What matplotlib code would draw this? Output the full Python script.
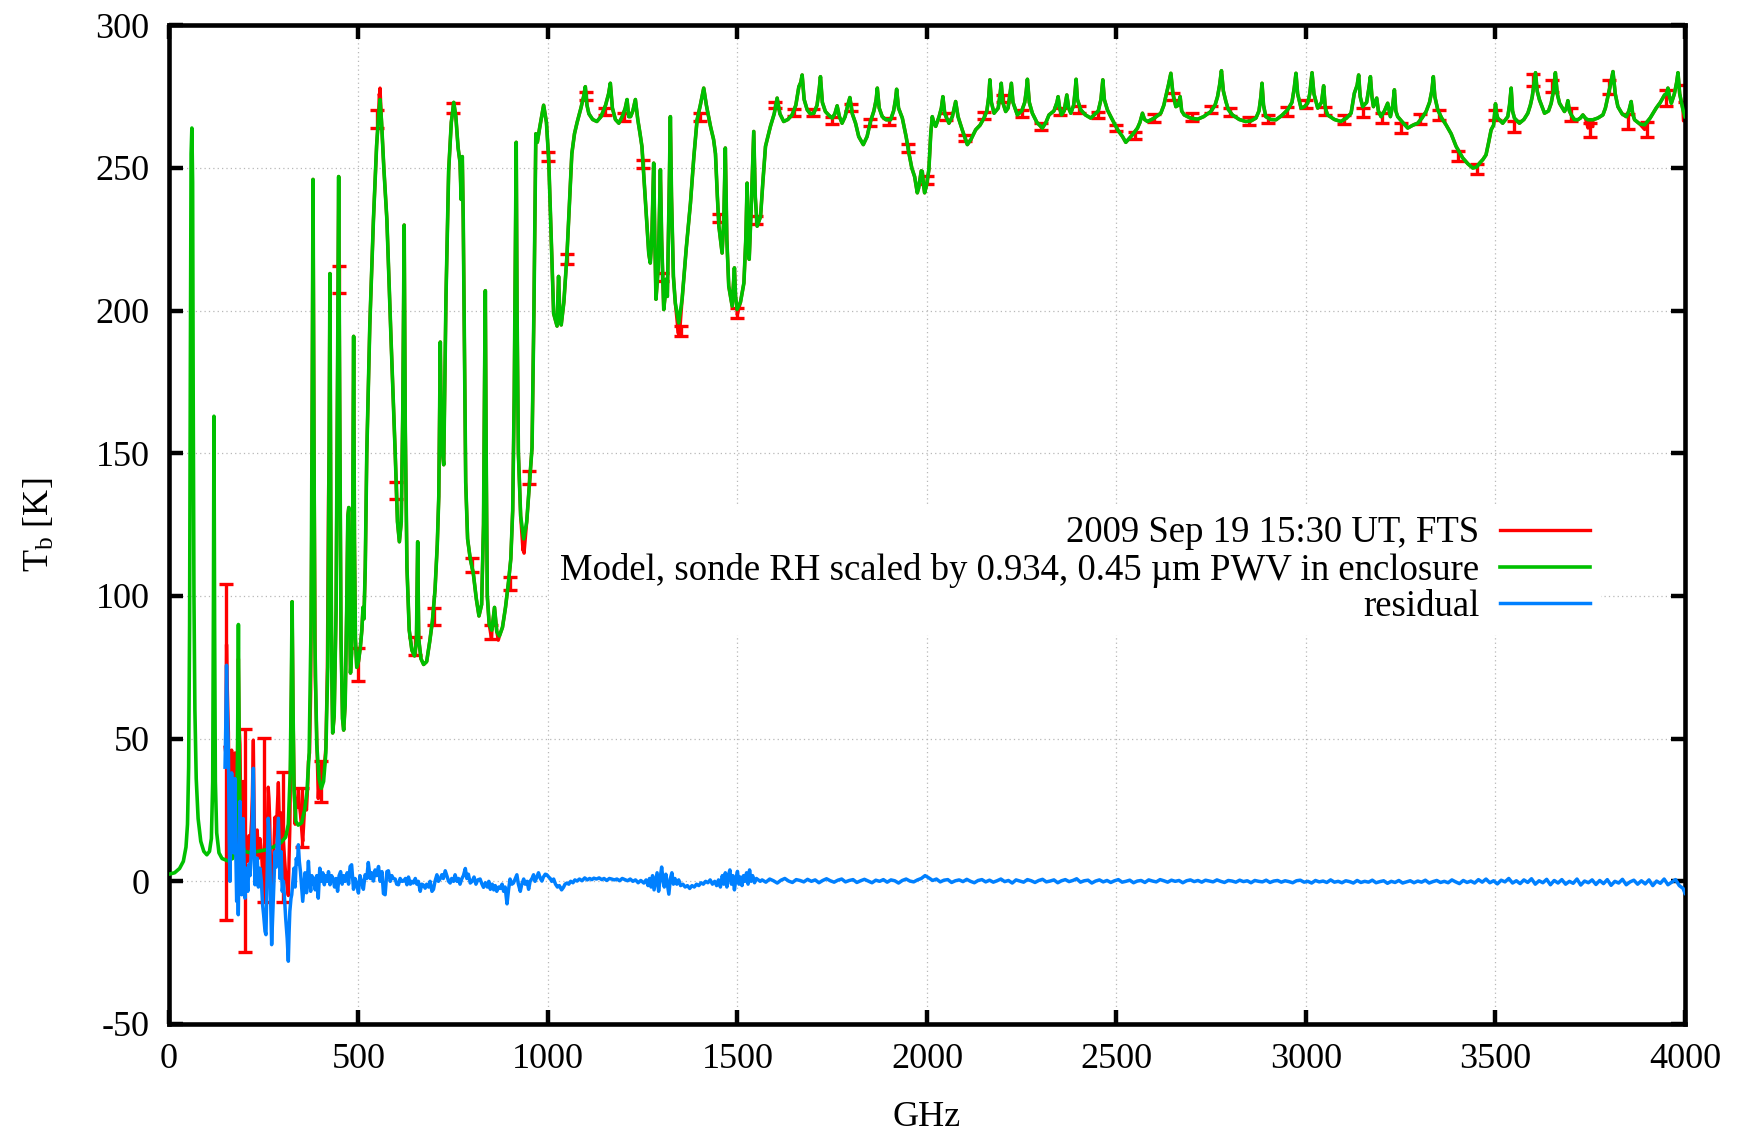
import numpy as np
import matplotlib
matplotlib.use("Agg")
import matplotlib.pyplot as plt

# ---------------- data ----------------
# Model spectrum (green): (GHz, K)
model_points = [
    (0, 2.5), (15, 3), (28, 4.5), (38, 7), (45, 12), (49, 20), (52, 40), (54.5, 90),
    (56.5, 180), (58.5, 255), (60.5, 264), (62.5, 245), (64, 170), (66, 100), (68.5, 60),
    (72, 36), (77, 22), (84, 14), (92, 10.5), (100, 9.3), (107, 10.5), (112, 15),
    (115.5, 35), (117.5, 100), (118.8, 163), (120.5, 90), (122.5, 35), (126, 17), (132, 10),
    (140, 8), (155, 7.2), (168, 8), (174, 11), (178, 18), (181, 45), (183.3, 90), (185.5, 45),
    (188, 20), (192, 13), (200, 10.5), (215, 10), (235, 10.5), (255, 11), (275, 12),
    (295, 13.5), (308, 15.5), (315, 20), (320, 38), (323, 70), (325, 98), (327.5, 60),
    (330, 32), (335, 21), (341, 19.7), (350, 20.5), (358, 25), (364, 31), (370, 45),
    (375, 90), (378, 170), (380.2, 246), (382.5, 160), (385, 85), (390, 48), (396, 36),
    (402, 32.6), (408, 35), (414, 45), (419, 75), (422.5, 150), (424.8, 213), (427, 130),
    (429.5, 75), (432, 52), (436, 58), (441, 95), (445, 180), (447.8, 247), (450.5, 170),
    (454, 85), (458, 57), (461, 53), (465, 62), (469, 95), (472, 128), (474.5, 131),
    (476.5, 95), (479, 73), (482, 80), (485, 130), (487.3, 191), (489.5, 120), (492, 85),
    (495.5, 75), (500, 77), (505, 82), (509, 88), (512, 96), (514.5, 92), (518, 110),
    (522, 150), (530, 195), (539.6, 232), (548, 258), (553, 268), (557, 274), (561, 266),
    (567, 250), (575, 232), (586, 190), (597, 150), (603, 126), (608, 119), (613, 126),
    (617, 165), (620.7, 230), (623.5, 160), (628, 110), (634, 88), (641, 81), (648, 79),
    (653, 84), (656.3, 119), (659, 85), (665, 78), (672, 76), (680, 77), (688, 84),
    (695, 91), (702, 102), (708, 118), (712, 135), (716, 189), (718.5, 160), (722, 150),
    (725, 146), (731, 205), (738, 249), (745, 266), (751.5, 273), (757, 268), (763, 257),
    (768, 252), (771, 239), (774, 254), (776.5, 232), (779.5, 190), (783, 140), (788, 120),
    (795, 113), (803, 108), (811, 99), (818, 93), (825, 97), (830, 125), (833, 180),
    (834.8, 207), (837, 150), (840, 100), (845, 90), (852, 88), (859, 96), (865, 87.5),
    (872, 86), (880, 89), (888, 96), (896, 105), (902, 113), (907, 130), (911, 170),
    (914, 220), (916.3, 259), (918.5, 200), (922, 150), (928, 128), (936, 120), (944, 126),
    (952, 141), (958, 152), (963, 200), (968, 262), (972, 259), (978, 264), (988.6, 272),
    (996, 266), (1002, 253), (1008, 228), (1015, 199), (1024, 194.6), (1028, 212),
    (1031, 200), (1035, 195), (1042, 203), (1050, 219), (1057, 238), (1063, 255),
    (1070, 262), (1077, 266), (1087, 271), (1094, 275), (1098.6, 278.5), (1103, 272),
    (1108, 269), (1118, 267), (1129, 266.3), (1140, 268), (1152, 272), (1160, 276),
    (1164.6, 279.7), (1170, 271), (1178, 267), (1187, 265.7), (1196, 268), (1204, 271),
    (1208.7, 274), (1213, 268), (1218, 268), (1224, 270), (1230.7, 274), (1237, 267),
    (1243, 262), (1248, 257.5), (1255, 243), (1261.5, 229.6), (1266, 220), (1270, 216.7),
    (1274, 225), (1279, 251.7), (1282, 225), (1285, 204), (1291, 215), (1296.7, 249.4),
    (1300, 225), (1305.5, 200.4), (1309, 205), (1311.6, 211), (1315, 205), (1319, 235),
    (1323, 268), (1326, 240), (1331, 212), (1336, 202.7), (1345, 195.7), (1354, 204),
    (1365, 222), (1376, 237.7), (1385, 254), (1393.5, 266.9), (1402, 272), (1411, 278),
    (1418, 272), (1429, 264.5), (1437, 260), (1442, 255), (1447, 240), (1451, 229.6),
    (1459.5, 220.2), (1464, 232), (1468, 257), (1472, 225), (1477, 208.6), (1486, 201.6),
    (1492, 215), (1495, 205), (1499, 200.4), (1508, 203), (1517, 209.7), (1522, 225),
    (1525.5, 244.7), (1528, 225), (1531, 218), (1536, 235), (1543, 262.8), (1547, 240),
    (1552, 229.6), (1561, 233), (1567, 245), (1574, 257.6), (1587, 264.6), (1597, 269),
    (1604.7, 274.5), (1612, 269), (1622, 266.3), (1633, 267), (1644, 268.6), (1654, 272),
    (1662, 278.5), (1667, 280), (1670.7, 282.6), (1676, 274), (1684, 270.4), (1692, 269),
    (1701.5, 269.2), (1710, 272), (1716, 278), (1719, 282), (1724, 273), (1732, 269.8),
    (1741, 268.5), (1750, 267.5), (1757, 269), (1763, 271.8), (1769, 268), (1776, 265.7),
    (1784, 268), (1791, 272), (1796.6, 274.7), (1803, 269), (1811.6, 265.7), (1820, 261),
    (1832, 258.2), (1842, 261), (1851, 266.3), (1860, 270), (1866, 274), (1869, 278),
    (1874, 271), (1882, 268), (1892, 266.9), (1904, 266.9), (1912, 270), (1917, 274),
    (1920, 277.6), (1925, 271), (1935, 267.5), (1945, 261), (1952.4, 255.2), (1960, 250),
    (1967.4, 247), (1971, 244), (1974.5, 241.3), (1978, 243), (1981.5, 245.9), (1985, 249),
    (1987.6, 248.8), (1991, 244), (1993.8, 241.3), (1999, 244), (2005, 249.4), (2010, 262),
    (2014, 268), (2018, 266), (2023, 264.6), (2032, 268), (2038, 271), (2042, 275),
    (2047, 269), (2058, 265.7), (2067, 268), (2075.7, 273.3), (2082, 268), (2093, 263.4),
    (2106.5, 258.2), (2116, 260), (2128.5, 263.4), (2140, 265), (2150.5, 267.5), (2158, 270),
    (2163, 275), (2166, 280.9), (2170, 273), (2177, 269.2), (2188, 271), (2193, 276),
    (2196, 279.7), (2200, 273), (2207.7, 269.8), (2214, 271), (2219, 276), (2222.7, 279.7),
    (2227, 273), (2238.5, 268.6), (2250, 270), (2258, 273), (2262, 277), (2265, 281.1),
    (2270, 273), (2278, 269.2), (2290, 266), (2304.5, 264), (2314, 266), (2322, 268.6),
    (2335, 270), (2343, 273), (2346, 275), (2350, 271), (2355, 268.6), (2362, 270),
    (2369, 275.6), (2374, 271), (2379.4, 269.2), (2387, 272), (2391, 277), (2393.5, 281.1),
    (2397, 274), (2405.8, 270.4), (2418, 268.6), (2432, 267.5), (2441, 268.6), (2452, 270),
    (2459, 274), (2464, 280.9), (2468, 274), (2476, 270.4), (2485, 268), (2494, 265.7),
    (2505, 263), (2516, 261), (2524.6, 259), (2538, 261), (2547, 262.5), (2555.5, 264),
    (2562, 266), (2568.6, 269.2), (2574, 267), (2582, 266.3), (2600, 267.5), (2617, 269.2),
    (2625, 272), (2630, 275), (2637, 279), (2643.5, 283.2), (2649, 276), (2656.7, 271.5),
    (2663, 272), (2668, 275), (2672, 270), (2678.7, 268.6), (2695, 267.5), (2714, 267.1),
    (2730, 268), (2749, 269.8), (2760, 272), (2766.7, 275), (2772, 279), (2777, 284.1),
    (2782, 277), (2788.7, 273.3), (2795, 270.5), (2806, 268.6), (2824, 267), (2841, 266.3),
    (2855, 266.5), (2868, 267.5), (2876, 270), (2881, 275), (2884, 279.7), (2888, 272),
    (2894, 268), (2907, 267), (2921, 266.9), (2937, 268.5), (2951.6, 270.4), (2963, 273),
    (2969, 278), (2973.6, 283.2), (2978, 276), (2987, 271), (2996, 271.5), (3004.4, 272.7),
    (3010, 276), (3016, 283.4), (3021, 276), (3031, 271), (3041, 273), (3046.6, 278.8),
    (3051, 271), (3057, 268.6), (3075, 267), (3092, 266.3), (3107, 267.5), (3119, 269.2),
    (3127.6, 276.2), (3135, 279), (3139, 282.6), (3143, 275), (3149.6, 271.5), (3160, 273),
    (3166, 278), (3170, 282), (3174, 275), (3178, 271.5), (3186.6, 274.5), (3191, 270),
    (3198, 268), (3207, 270), (3215.6, 272.7), (3222.7, 268), (3229, 272), (3233.3, 277.4),
    (3237, 270), (3242, 268), (3255, 266), (3268.5, 264), (3282, 265), (3294.8, 265.7),
    (3306, 267.5), (3317, 269.8), (3326, 273), (3332, 277), (3336, 282), (3340, 275),
    (3347.7, 270.4), (3358, 267.5), (3369.7, 265.1), (3383, 262), (3396, 257.6),
    (3405, 255.5), (3413.7, 253.5), (3427, 251.5), (3440, 250), (3450, 250.3), (3458, 251.7),
    (3467, 253), (3475, 254.6), (3482, 259), (3488.5, 263.4), (3495, 265), (3500, 272.5),
    (3503, 269), (3506, 267.5), (3519, 265.7), (3532.5, 268), (3537, 272), (3541.4, 278),
    (3545, 270), (3550, 267.5), (3563, 265.7), (3575, 267), (3585.4, 269.2), (3592, 272),
    (3597, 275), (3601, 279), (3605.6, 283.4), (3610, 277), (3616, 273.9), (3629.4, 269.2),
    (3640, 270), (3647, 272.7), (3653, 277), (3658, 283.4), (3663, 276), (3669, 272.7),
    (3682, 269.8), (3687, 271), (3691, 273.6), (3695, 270), (3700, 268.6), (3708, 267),
    (3717, 266.9), (3724, 267.5), (3730.6, 268.6), (3737, 267.5), (3744, 266.9),
    (3757, 266.9), (3770, 267.5), (3783.4, 268.6), (3790, 271), (3796.6, 275), (3803, 279),
    (3810, 283.8), (3816, 276), (3823, 271.5), (3834, 269), (3845, 268), (3852, 270),
    (3858, 273.3), (3862, 269), (3867, 266.9), (3880, 265.5), (3893.5, 265.1), (3908, 267.5),
    (3924, 271), (3935, 273), (3946, 275.6), (3951, 276), (3955, 278), (3959, 275),
    (3964, 272.7), (3972, 276), (3978, 280), (3981.5, 283.4), (3986, 276), (3994.7, 270.4),
    (4000, 268),
]

# Measured FTS spectrum (red) where it departs from the model (low frequencies)
fts_low_points = [
    (148, 47), (150, 45), (152, 83), (154, 68), (157, 52), (159, 22), (161, 8), (163, 33),
    (165.5, 46), (168, 20), (170, 18), (172, 38), (174.3, 45), (176.5, 20), (178.7, 10),
    (181, 45), (183.3, 78), (185, 55), (187.5, 48), (190, 18), (192, 8), (194, 24), (196, 35),
    (198, 20), (200.7, 4.5), (203, 12.5), (205, 15), (208, 7), (211, 16), (214, 12),
    (218, 21.5), (220, 30), (222.7, 49.5), (225, 22), (227, 9), (230, 16), (233, 18), (236, 8),
    (240, 15), (244, 10.5), (247, 3), (250, -1), (253.5, -6.5), (256, -7.5), (258, 6),
    (260, 21), (262, 33), (264, 29), (266, 21.5), (268, 6), (271, -10), (273, -3),
    (275.5, 5), (278, 16), (280, 22.5), (283, 17), (286, 26.5), (288.7, 34.6), (291, 23),
    (293, 14.5), (296, 24), (299, 10.5), (302, 14), (305, 8.5), (308, 2.5), (312, -2),
    (315, -5), (317, 8), (319, 18), (321, 40), (323, 65), (325, 98), (327.5, 60), (330, 36.6),
    (333, 20), (336, 29), (339, 26), (341.5, 32.5), (344, 27), (347, 23.5), (350, 18.5),
    (353, 14), (356, 21), (359, 28), (363, 25), (366, 33), (368, 42), (371, 45), (374, 66),
    (377, 130), (380.2, 246), (383, 150), (386, 72), (390, 50), (394, 29), (398, 40),
    (402, 32.6), (406, 38), (410, 40), (414, 47), (418, 75), (421, 135),
]
# FTS points that stand out from the model curve at higher frequency
fts_dev_points = [
    (555, 276), (557, 278), (559, 272), (851, 85), (869, 84.5), (934, 116), (937, 115),
    (1344, 192), (1347, 191.5), (1499.5, 198.5), (3744, 264), (3757, 264.5),
    (3893.5, 263.5), (3996, 266.5),
]

# Error bars on the FTS spectrum: every 50 GHz (centre, +/- error)
err_freq = list(range(150, 4001, 50))
err_tb = [
    45.3, 14.3, 21.6, 15.5, 22.4, 35.1, 211.0, 75.9, 267.2, 136.9, 82.4, 92.7, 271.1,
    110.8, 87.5, 104.4, 141.5, 254.0, 218.1, 275.3, 269.8, 267.8, 251.5, 211.8, 192.8,
    267.8, 232.5, 199.2, 231.9, 272.1, 269.5, 269.5, 266.7, 271.3, 266.0, 266.3, 257.0,
    245.9, 268.0, 260.5, 268.3, 274.5, 269.0, 264.6, 269.8, 270.4, 268.6, 264.0, 261.3,
    267.5, 275.0, 267.8, 270.4, 269.5, 266.3, 267.1, 269.8, 272.5, 270.0, 266.9, 269.5,
    267.5, 264.0, 267.1, 268.6, 254.3, 249.6, 268.6, 264.6, 280.9, 278.8, 268.6, 263.4,
    278.5, 266.3, 263.4, 274.5, 276.2,
]
err_size = [
    58.8, 39.2, 28.8, 22.9, 10.2, 7.2, 4.8, 5.7, 3.2, 2.9, 3.2, 3.0, 1.8, 2.4, 2.5, 2.3,
    2.2, 1.6, 1.6, 1.4, 1.3, 1.3, 1.4, 1.5, 1.8, 1.3, 1.4, 1.6, 1.4, 1.2, 1.2, 1.2, 1.2,
    1.2, 1.2, 1.2, 1.3, 1.4, 1.2, 1.2, 1.2, 1.2, 1.2, 1.2, 1.2, 1.2, 1.2, 1.2, 1.3, 1.3,
    1.3, 1.3, 1.3, 1.4, 1.4, 1.4, 1.5, 1.5, 1.5, 1.5, 1.6, 1.6, 1.6, 1.7, 1.7, 1.8, 1.8,
    1.9, 2.0, 2.2, 2.2, 2.3, 2.4, 2.5, 2.6, 2.7, 2.8, 3.0,
]

# Residual (blue), FTS - model
resid_points = [
    (148, 40), (150, 55), (152, 75.7), (154, 60), (157, 45), (159, 15), (161, 0), (163, 25),
    (165.5, 38), (168, 12), (170, 10), (172, 30), (174.3, 36), (176.5, 10), (178.7, -7),
    (181, 5), (183, -11.7), (185, 10), (187.5, 28), (190, 5), (192, -4.7), (194, 12),
    (196, 22), (198, 8), (200.7, -5.9), (203, 2), (205, 4.6), (208, -3.5), (211, 6),
    (214, 2), (218, 11.6), (220, 20), (222.7, 39.6), (225, 12), (227, -1.2), (230, 6),
    (233, 8.1), (236, -2), (240, 4.6), (244, 0), (247, -8), (250, -12), (253.5, -17.5),
    (256, -18.7), (258, -5), (260, 10), (262, 22.1), (264, 18), (266, 10.4), (268, -5),
    (271, -22.2), (273, -15), (275.5, -7), (278, 4), (280, 10.4), (283, 5), (286, 14),
    (288.7, 22.1), (291, 10), (293, 1), (296, 10.4), (299, -3.5), (302, 0), (305, -6),
    (308, -12.9), (312, -20), (315, -28), (317, -18), (319, -10.5), (322, -6), (324, -4.7),
    (327, 0), (330, 4.6), (333, -2), (336, 8), (339, 6), (341.5, 12.8), (344, 7), (347, 3.4),
    (350, -2), (353, -7), (356, -2), (359, 3), (363, -4), (366, 2), (368, 7), (371, 0),
    (374, -3.5), (377, 2), (380, -1), (383, 1.1), (386, -3), (390, 2), (394, -5.9),
    (398, 4.6), (402, 0), (406, 3), (410, -1.2), (414, 2), (418, 0), (421, 3.4), (425, -1.2),
    (429, 2), (433, 1), (437, -2), (441, 1), (445, -3.5), (449, 2), (453, 3.4), (457, -1),
    (461, 2), (465, 0), (470, 3), (474, -1), (478, 5.2), (482, 5.8), (487, -2.8), (491, 1),
    (496, -1.2), (500, -4.1), (504, 2), (508, 0), (513, -2.8), (517.6, 2.3), (522, 1),
    (526, 6.6), (531, 1), (535, 3), (539.6, 0.1), (544, 4), (548, 2), (553, 5.2), (557, 0),
    (562, 3.4), (566, -4.3), (570.4, -4.7), (575, 3.4), (579, 3.7), (584, 0), (588, 2),
    (592, 1), (597, 0.8), (601, -1), (605.6, -1.2), (610, 1), (615, 0), (619, 0.1), (624, 1),
    (628, -1.2), (632, 1.5), (637, -1), (641, 0), (645, -0.6), (650, 1), (654, -1), (658, 0),
    (663, -3.5), (667, -1), (671.6, -1.3), (676, -2.4), (680, -1), (685, -2), (689, 0),
    (694, -3.5), (698, -2.8), (702, 0), (707, 2.3), (711, 0), (716, 1), (720, 2.3), (724, 1),
    (729, 3.7), (733, 2), (738, 0), (742, -0.6), (746, 1), (751, 0), (755, 2.3), (760, 0),
    (764, 1), (768, -1), (773, 1), (777, 2), (782, 4.5), (786, 1), (790, 2.5), (795, -0.6),
    (800, 0), (805, 1.5), (810, -1), (815, 0.5), (821, 0.8), (826, -1), (830, -2.1),
    (835, -0.5), (840, -2), (844, 0), (848, -2.8), (853, -1), (857, -3), (861, -1.5),
    (865, -3.5), (870, -2), (874, -2.5), (879, -1), (883, -3.5), (887, -2), (892, -7.9),
    (896, -3), (900, 0.8), (905, -1), (909, -0.6), (914, 1), (918, 2.3), (922, -1),
    (927, -3.5), (931, -1), (936, 0.8), (940, -1), (945, 0), (949, -2.8), (953, 0), (958, 1),
    (962, 2.3), (966, 0), (971, 1.5), (975, 3), (980, 1), (984, 0.1), (988, 1.5), (993, 2.5),
    (997, 2.3), (1002, 1.5), (1006, 1), (1010, 0), (1015, 0.8), (1020, -1), (1025, -2),
    (1030, -1.5), (1036, -3), (1041, -2.1), (1045, -1), (1050, -0.6), (1055, -1), (1060, 0),
    (1066, -0.5), (1071, 0.5), (1077, 0.1), (1083, 0.8), (1090, 0.2), (1097, 1.2),
    (1104, 0.5), (1110, 1), (1116, 0.6), (1121, 1.1), (1128, 0.8), (1135, 1.2), (1142, 0.6),
    (1148, 1), (1155, 0.3), (1162, 1), (1168, 0.8), (1175, 0.5), (1182, 0.8), (1189, 0.2),
    (1196, 1), (1203, 0.6), (1210, 0.2), (1217, 0.8), (1224, 0), (1231, 0.5), (1238, -0.5),
    (1245, 0.3), (1253, -0.6), (1259, 0.5), (1264, -1.5), (1268, 1), (1272, -2), (1276, 2),
    (1280, -3), (1284, 0), (1288, 3), (1292, -3.5), (1296, 1), (1300, 5), (1304, 0),
    (1307, -2), (1311, 2.5), (1315, -1), (1319, -4.5), (1323, 1), (1327, 3), (1331, -1),
    (1335, 1), (1340, -1), (1345, 0.5), (1350, -1.5), (1356, -1), (1362, -2), (1368, -1.5),
    (1374, -2.5), (1380, -1.5), (1386, -2), (1392, -1), (1398, -1.5), (1404, -0.5),
    (1410, -1), (1416, 0), (1422, -0.5), (1428, 0.5), (1434, -1), (1440, 0), (1445, -1.5),
    (1450, 0.5), (1455, -2), (1460, 2), (1464, -1), (1468, 3), (1472, -2), (1476, 2),
    (1480, 4), (1484, -1), (1488, 2), (1492, -3), (1496, 1), (1500, 3.5), (1504, -1),
    (1508, 1.5), (1512, -1.5), (1516, 2), (1520, 0), (1524, 3), (1528, -1), (1532, 4),
    (1536, 0), (1540, 2), (1545, -0.5), (1550, 1), (1555, 0.5), (1560, 0),
]
# Residual above 1560 GHz, read every 10 GHz starting at 1565 GHz
resid_hi_start, resid_hi_step = 1565, 10
resid_hi_tb = [
    0.5, -0.3, 0.8, 0.2, -0.6, 0.4, 1.0, 0.1, -0.4, 0.6, 0.3, -0.2, 0.7, 0.0, 0.5, -0.5, 0.3, 0.9, 0.2, -0.3,
    0.4, 0.8, -0.2, 0.3, 0.6, -0.4, 0.2, 0.7, 0.1, -0.5, 0.4, 0.0, 0.6, -0.3, 0.5, 0.2, -0.6, 0.3, 0.8, 0.1,
    -0.2, 0.5, 1.0, 2.0, 1.2, 0.3, 0.8, -0.2, 0.4, 0.6, -0.4, 0.2, 0.5, -0.1, 0.7, 0.0, -0.5, 0.3, 0.6, -0.2,
    0.4, -0.3, 0.2, 0.8, -0.1, 0.3, -0.6, 0.5, 0.1, -0.3, 0.6, 0.2, -0.4, 0.3, 0.7, -0.2, 0.1, 0.5, -0.5, 0.2,
    0.6, -0.1, 0.3, 0.9, -0.3, 0.2, 0.4, -0.6, 0.1, 0.5, -0.2, 0.3, -0.4, 0.2, 0.6, -0.3, 0.0, 0.4, -0.5, 0.1,
    0.3, -0.4, 0.5, 0.1, -0.2, 0.6, 0.2, -0.3, 0.4, 0.0, 0.3, -0.5, 0.2, 0.5, -0.1, 0.3, -0.3, 0.4, 0.1, -0.2,
    0.5, 0.0, -0.4, 0.3, 0.1, -0.3, 0.4, -0.1, 0.2, -0.5, 0.3, 0.0, -0.2, 0.4, -0.4, 0.1, 0.3, -0.3, 0.2, -0.1,
    -0.5, 0.2, 0.4, -0.3, 0.0, -0.6, 0.3, -0.2, 0.1, -0.4, 0.5, -0.3, 0.0, -0.5, 0.2, -0.1, -0.6, 0.3, -0.4, 0.0,
    -0.3, 0.4, -0.5, -0.1, 0.2, -0.7, 0.0, -0.4, 0.3, -0.6, -0.2, 0.2, -0.5, 0.1, -0.3, 0.4, -0.6, -0.1, 0.3, -0.4,
    0.0, -0.5, 0.5, -0.2, -0.8, 0.3, -0.4, 0.1, -0.6, 0.6, -0.3, 0.8, -0.5, 0.2, -0.9, 0.4, -0.2, 1.0, -0.6, 0.2,
    -0.8, 0.5, -0.4, 0.9, -1.0, 0.2, -0.5, 0.7, -1.2, 0.3, -0.6, 0.6, -1.0, 0.0, -0.7, 0.8, -1.3, 0.1, -0.5, 0.5,
    -1.1, 0.3, -0.8, 0.6, -1.4, 0.0, -0.6, 0.7, -1.2, -0.2, 0.4, -1.0, 0.2, -0.9, 0.5, -1.5, 0.1, -0.7, 0.8, -1.2,
    -0.3, 0.6, -1.5, -2.5,
]
resid_end = (4000, -4.2)

labels = [
    "2009 Sep 19 15:30 UT, FTS",
    "Model, sonde RH scaled by 0.934, 0.45 \u00b5m PWV in enclosure",
    "residual",
]

# ---------------- build series ----------------
model_f, model_t = map(np.array, zip(*model_points))

fts_pts = list(fts_low_points)
fts_pts += [(f, t) for f, t in model_points if f > 422]
fts_pts += fts_dev_points
fts_pts.sort()
fts_f, fts_t = map(np.array, zip(*fts_pts))

res_hi_f = resid_hi_start + resid_hi_step * np.arange(len(resid_hi_tb))
res_pts = list(resid_points) + list(zip(res_hi_f, resid_hi_tb)) + [resid_end]
res_f, res_t = map(np.array, zip(*res_pts))

# ---------------- figure ----------------
plt.rcParams["font.family"] = ["Liberation Serif", "DejaVu Serif"]
plt.rcParams["mathtext.fontset"] = "custom"
plt.rcParams["mathtext.rm"] = "Liberation Serif"
plt.rcParams["mathtext.it"] = "Liberation Serif:italic"
plt.rcParams["axes.unicode_minus"] = False

FS = 26
fig = plt.figure(figsize=(17.38, 11.36), dpi=100)
ax = fig.add_axes([0.0972, 0.0986, 0.8723, 0.8791])

red, green, blue = "#ff0000", "#00c000", "#0080ff"

ax.plot(fts_f, fts_t, color=red, lw=2.4, zorder=2, label=labels[0])
ax.errorbar(err_freq, err_tb, yerr=err_size, fmt="none", ecolor=red,
            elinewidth=2.4, capsize=5, capthick=2.4, zorder=2.5)
ax.plot(model_f, model_t, color=green, lw=2.6, zorder=3, label=labels[1])
ax.plot(res_f, res_t, color=blue, lw=2.5, zorder=4, label=labels[2])

ax.set_xlim(0, 4000)
ax.set_ylim(-50, 300)
ax.set_xticks(np.arange(0, 4001, 500))
ax.set_yticks(np.arange(-50, 301, 50))
ax.tick_params(direction="in", length=10, width=3.2, top=True, right=True,
               labelsize=FS, pad=14)
for s in ax.spines.values():
    s.set_linewidth(3.3)
ax.grid(True, color="#b8b8b8", linestyle=(0, (1, 2.5)), linewidth=0.9, zorder=0)
ax.set_axisbelow(True)

ax.set_xlabel("GHz", fontsize=FS, labelpad=18)
ax.set_ylabel(r"$\mathregular{T_b}$ [K]", fontsize=FS, labelpad=28)

leg = ax.legend(loc="center right", bbox_to_anchor=(0.9445, 0.4545),
                markerfirst=False, frameon=True, fancybox=False, fontsize=26.5,
                handlelength=2.45, handletextpad=0.55, labelspacing=0.06,
                borderpad=0.3, borderaxespad=0)
leg.get_frame().set_facecolor("white")
leg.get_frame().set_edgecolor("none")
leg.get_frame().set_alpha(1.0)

fig.savefig("out.png", dpi=100)
